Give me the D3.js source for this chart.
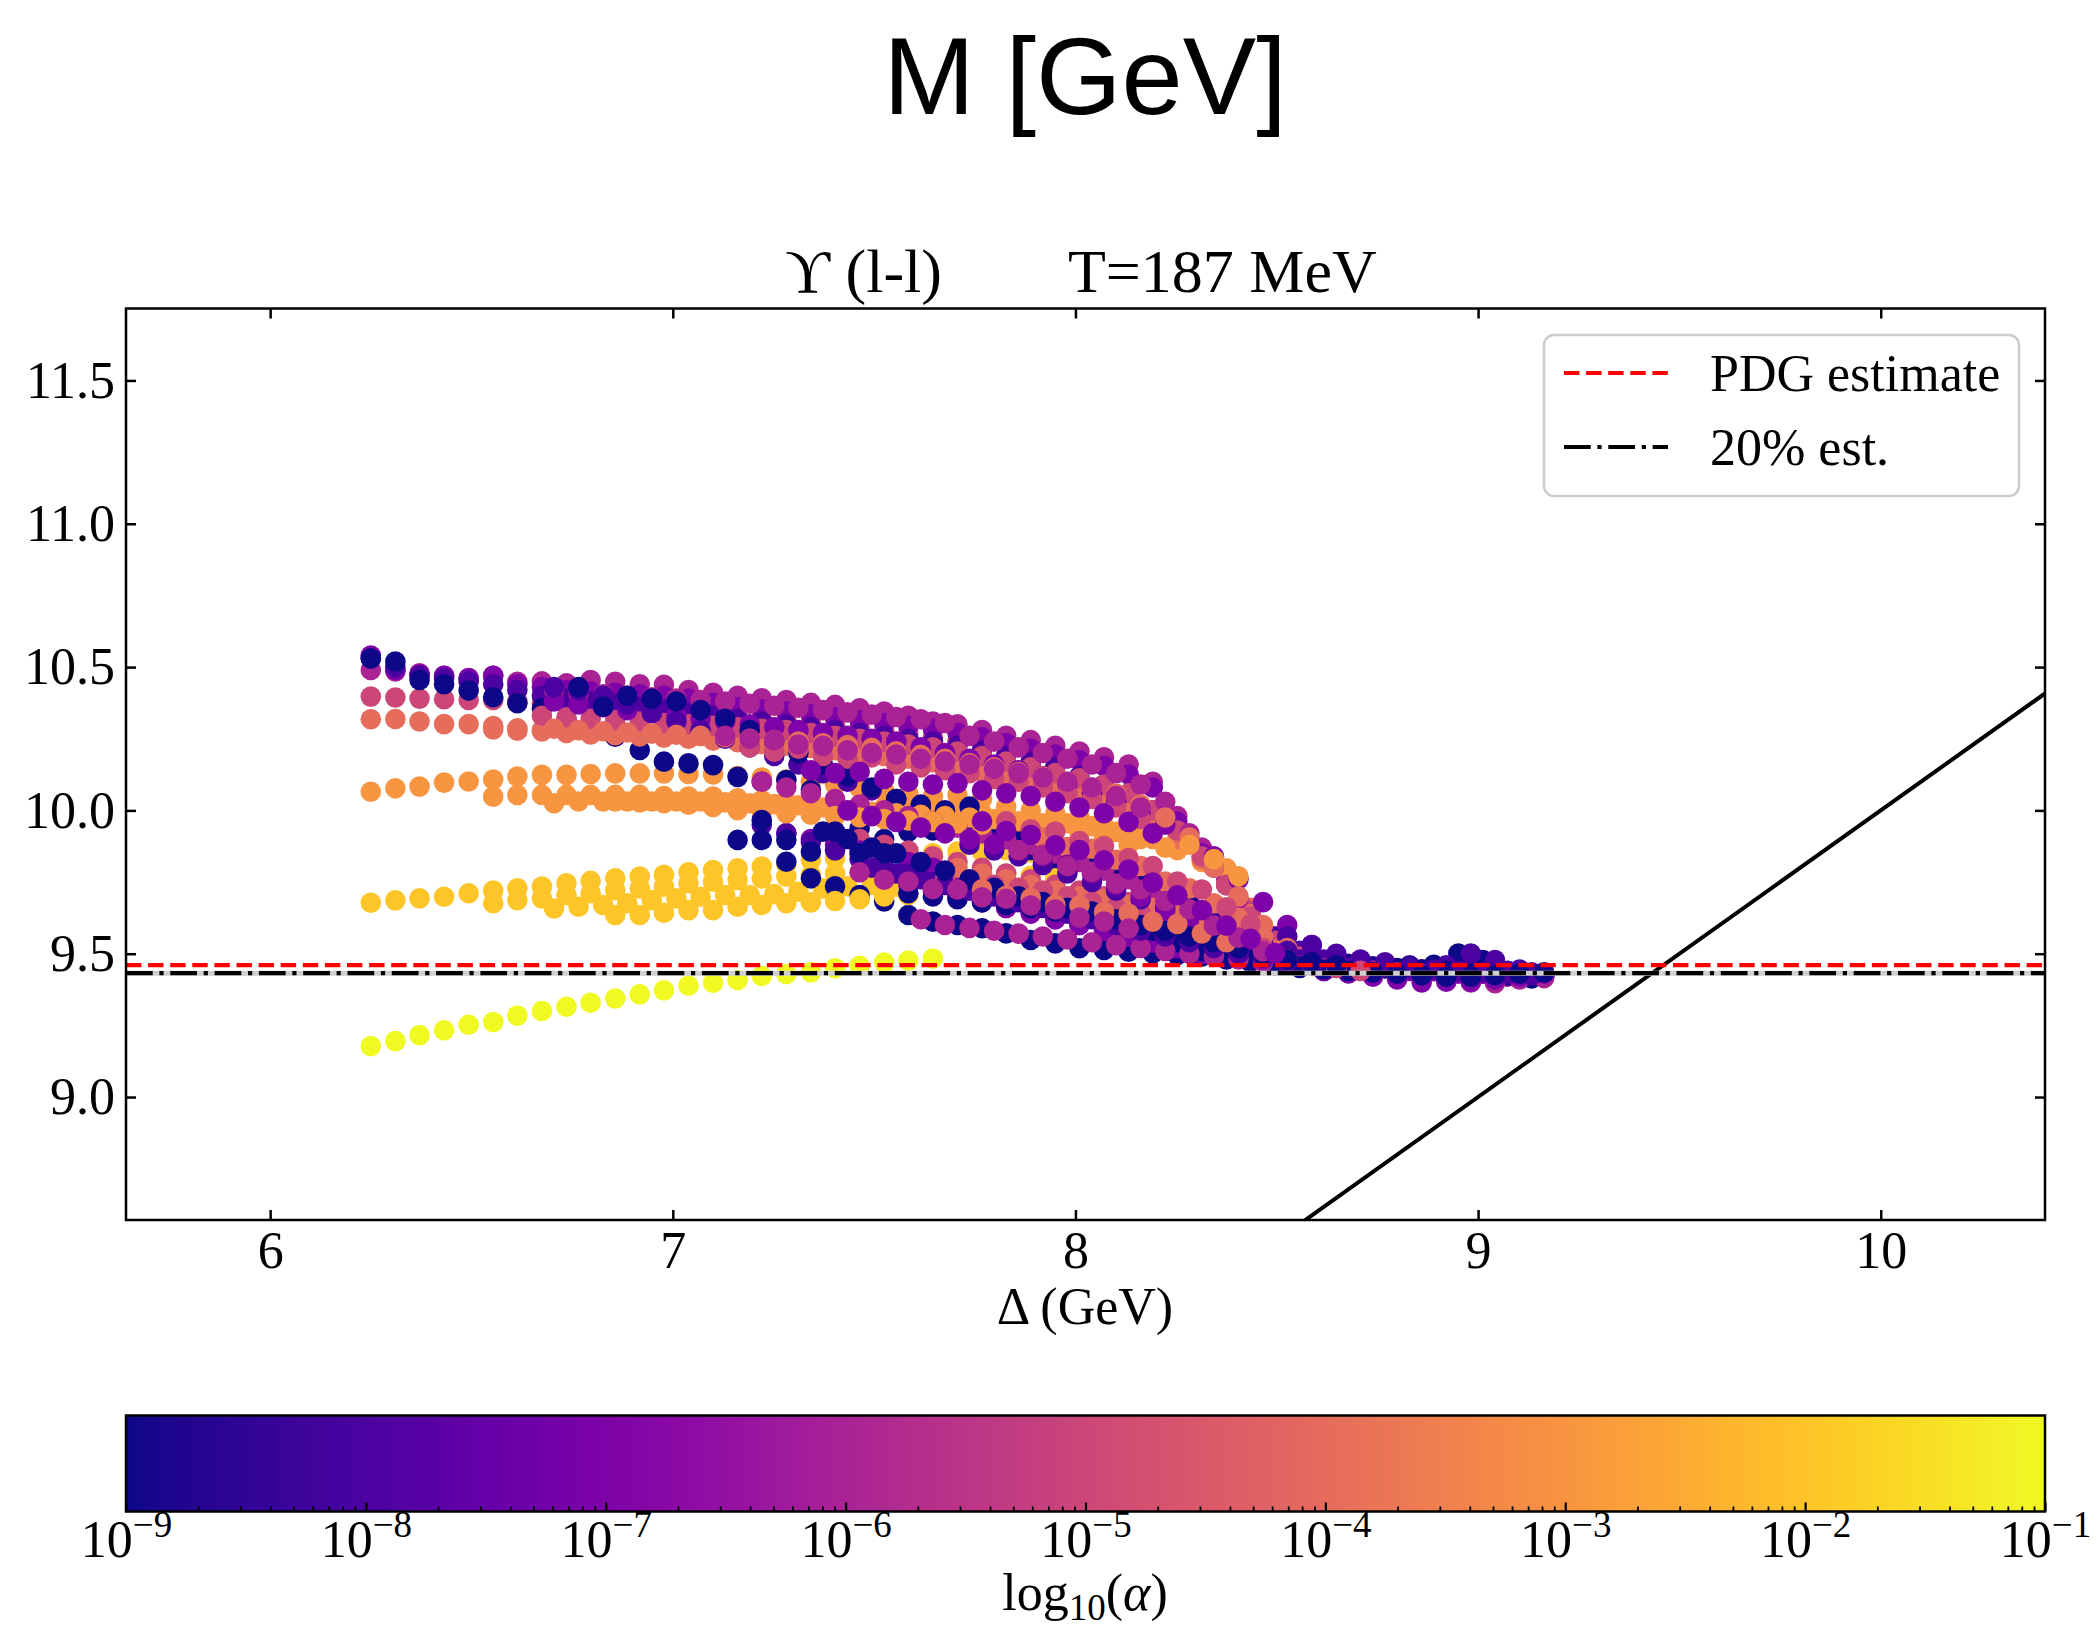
<!DOCTYPE html>
<html>
<head>
<meta charset="utf-8">
<script src="https://cdn.jsdelivr.net/npm/d3@7"></script>
<style>
  body { margin: 0; background: #ffffff; }
  svg text { font-family: "Liberation Serif", "DejaVu Serif", serif; fill: #000; }
</style>
</head>
<body>
<svg id="chart" width="2100" height="1628"></svg>
<script>
// ---- Δ grid (GeV), half-step spacing; a track point n sits at deltaGrid[j0 + 2n] ----
const deltaGrid = [
  6.250, 6.280, 6.311, 6.341, 6.371, 6.402, 6.432, 6.462, 6.493, 6.523,
  6.554, 6.584, 6.614, 6.645, 6.675, 6.705, 6.736, 6.766, 6.796, 6.827,
  6.857, 6.887, 6.918, 6.948, 6.978, 7.009, 7.039, 7.069, 7.100, 7.130,
  7.161, 7.191, 7.221, 7.252, 7.282, 7.312, 7.343, 7.373, 7.403, 7.434,
  7.464, 7.494, 7.525, 7.555, 7.585, 7.616, 7.646, 7.676, 7.707, 7.737,
  7.768, 7.798, 7.828, 7.859, 7.889, 7.919, 7.950, 7.980, 8.010, 8.041,
  8.071, 8.101, 8.132, 8.162, 8.192, 8.223, 8.253, 8.283, 8.314, 8.344,
  8.375, 8.405, 8.435, 8.466, 8.496, 8.526, 8.557, 8.587, 8.617, 8.648,
  8.678, 8.708, 8.739, 8.769, 8.799, 8.830, 8.860, 8.890, 8.921, 8.951,
  8.982, 9.012, 9.042, 9.073, 9.103, 9.133, 9.164, 9.194
];

// ---- fitted masses M (GeV) per regularisation strength α ----
// α = 1e-1
const tracksA1 = [
  { j0: 0, m: [9.178, 9.195, 9.216, 9.233, 9.252, 9.262, 9.284, 9.300, 9.315, 9.329, 9.344, 9.358, 9.372, 9.388, 9.399, 9.408, 9.422, 9.429, 9.435, 9.449, 9.458, 9.469, 9.476, 9.483] }
];
// α = 1e-2
const tracksA2 = [
  { j0: 0,  m: [9.678, 9.686, 9.693, 9.699, 9.711, 9.720, 9.728, 9.734, 9.746, 9.754, 9.763, 9.769, 9.775, 9.784, 9.792, 9.798, 9.804, 9.812, 9.827, 9.832, 9.839, 9.845, 9.850, 9.850, 9.856, 9.856, 9.862, 9.852, 9.840, 9.832, 9.827, 9.821] },
  { j0: 10, m: [9.676, 9.687, 9.693, 9.705, 9.711, 9.722, 9.728, 9.734, 9.746, 9.751, 9.757, 9.763, 9.769, 9.775, 9.780, 9.784, 9.788, 9.790, 9.775, 9.786, 9.775, 9.780, 9.772, 9.763] },
  { j0: 15, m: [9.658, 9.664, 9.670, 9.676, 9.687, 9.693, 9.699, 9.705, 9.705, 9.708, 9.716, 9.728, 9.735, 9.740, 9.734] },
  { j0: 20, m: [9.635, 9.635, 9.643, 9.652, 9.652, 9.664, 9.670, 9.676, 9.679, 9.684, 9.690, 9.700, 9.705] }
];
// α = 1e-3
const tracksA3 = [
  { j0: 0,  m: [10.065, 10.077, 10.083, 10.097, 10.101, 10.108, 10.118, 10.124, 10.124, 10.127, 10.129, 10.129, 10.129, 10.127, 10.125, 10.120, 10.115, 10.108, 10.100, 10.090, 10.078, 10.068, 10.058, 10.048, 10.054, 10.040, 10.013, 10.000, 9.990, 9.975, 9.986, 9.960, 9.930, 9.862, 9.830, 9.792] },
  { j0: 10, m: [10.048, 10.054, 10.054, 10.054, 10.054, 10.054, 10.054, 10.050, 10.048, 10.048, 10.042, 10.036, 10.030, 10.025, 10.020, 10.015, 10.010, 10.005, 10.000, 9.995, 9.990, 9.985, 9.978, 9.970, 9.960, 9.945, 9.925, 9.900, 9.862, 9.820, 9.798] },
  { j0: 15, m: [10.025, 10.031, 10.031, 10.031, 10.031, 10.031, 10.031, 10.028, 10.025, 10.022, 10.018, 10.010, 10.000, 9.995, 9.990, 9.985, 9.980, 9.975, 9.970, 9.962, 9.955, 9.955, 9.945, 9.925, 9.900, 9.870] },
  { j0: 20, m: [10.031, 10.028, 10.025, 10.020, 10.012, 10.001, 9.996, 9.990, 9.985, 9.980, 9.975, 9.970, 9.965, 9.960, 9.955, 9.950, 9.945, 9.940, 9.930, 9.920, 9.905, 9.880] },
  { j0: 67, m: [9.880, 9.830, 9.770] }
];
// α = 1e-4
const tracksA4 = [
  { j0: 0,  m: [10.318, 10.319, 10.310, 10.301, 10.301, 10.294, 10.286, 10.280, 10.275, 10.272, 10.268, 10.263, 10.258, 10.252, 10.246, 10.240, 10.234, 10.228, 10.222, 10.215, 10.205, 10.195, 10.186, 10.176, 10.160, 10.135, 10.120, 10.100, 10.080, 10.065, 10.040, 10.010, 9.978, 9.926, 9.860, 9.770, 9.660] },
  { j0: 10, m: [10.282, 10.278, 10.275, 10.270, 10.265, 10.262, 10.258, 10.254, 10.250, 10.244, 10.238, 10.232, 10.226, 10.218, 10.210, 10.200, 10.190, 10.180, 10.168, 10.155, 10.140, 10.125, 10.110, 10.095, 10.078, 10.050, 10.015, 9.960, 9.900, 9.830, 9.740, 9.640] },
  { j0: 15, m: [10.285, 10.280, 10.276, 10.272, 10.268, 10.264, 10.260, 10.255, 10.250, 10.245, 10.240, 10.234, 10.228, 10.218, 10.206, 10.194, 10.180, 10.165, 10.150, 10.134, 10.118, 10.100, 10.080, 10.058, 10.020, 9.975, 9.905, 9.800, 9.700, 9.600, 9.520] },
  { j0: 48, m: [9.800, 9.780, 9.760, 9.740, 9.720, 9.700, 9.690, 9.670, 9.660, 9.640, 9.620, 9.600, 9.560, 9.513] },
  { j0: 55, m: [9.905, 9.872, 9.866, 9.828, 9.806, 9.752, 9.728, 9.676, 9.624, 9.560] },
  { j0: 50, m: [9.725, 9.702, 9.694, 9.671, 9.668, 9.645, 9.640, 9.612, 9.604, 9.571, 9.540] }
];
// α = 1e-5
const tracksA5 = [
  { j0: 0,  m: [10.397, 10.394, 10.390, 10.388, 10.385, 10.385, 10.380, 10.372, 10.368, 10.362, 10.355, 10.350, 10.345, 10.338, 10.330, 10.325, 10.321, 10.315, 10.308, 10.300, 10.290, 10.280, 10.268, 10.255, 10.240, 10.211, 10.190, 10.160, 10.130, 10.100, 10.065, 10.030, 9.990, 9.930, 9.850, 9.750, 9.650, 9.560, 9.500, 9.475] },
  { j0: 14, m: [10.330, 10.325, 10.320, 10.315, 10.310, 10.305, 10.300, 10.295, 10.290, 10.285, 10.280, 10.270, 10.260, 10.250, 10.240, 10.230, 10.220, 10.205, 10.190, 10.170, 10.150, 10.130, 10.112, 10.090, 10.060, 10.000, 9.930, 9.840, 9.740, 9.630, 9.545, 9.490] },
  { j0: 40, m: [9.900, 9.880, 9.860, 9.840, 9.820, 9.800, 9.780, 9.760, 9.740, 9.720, 9.700, 9.680, 9.660, 9.640, 9.600, 9.560, 9.520, 9.490, 9.470] },
  { j0: 47, m: [9.760, 9.750, 9.740, 9.730, 9.720, 9.700, 9.680, 9.660, 9.640, 9.610, 9.580, 9.540, 9.500] },
  { j0: 73, m: [9.520, 9.480, 9.460, 9.450, 9.440] },
  { j0: 52, m: [9.962, 9.934, 9.926, 9.893, 9.876, 9.834, 9.806, 9.752, 9.724, 9.662, 9.603] },
  { j0: 31, m: [10.220, 10.205, 10.215, 10.190, 10.180, 10.185, 10.160, 10.150, 10.140, 10.130, 10.110, 10.100, 10.080, 10.060, 10.040, 10.010, 9.970] }
];
// α = 1e-6
const tracksA6 = [
  { j0: 0,  m: [10.490, 10.485, 10.478, 10.470, 10.462, 10.470, 10.449, 10.450, 10.443, 10.455, 10.449, 10.440, 10.438, 10.420, 10.410, 10.400, 10.391, 10.385, 10.375, 10.368, 10.356, 10.345, 10.330, 10.310, 10.300, 10.280, 10.260, 10.245, 10.225, 10.205, 10.185, 10.160, 10.100, 9.980, 9.870, 9.760, 9.640, 9.550, 9.490, 9.465, 9.455, 9.450, 9.445, 9.440, 9.440, 9.435, 9.430, 9.425, 9.420] },
  { j0: 15, m: [10.420, 10.410, 10.405, 10.400, 10.395, 10.390, 10.385, 10.380, 10.372, 10.365, 10.358, 10.350, 10.342, 10.334, 10.326, 10.318, 10.305, 10.260, 10.240, 10.220, 10.200, 10.180, 10.160, 10.130, 10.090, 10.030, 9.920, 9.800, 9.690, 9.580, 9.510, 9.475, 9.460, 9.455, 9.450, 9.445, 9.440, 9.435, 9.430, 9.430, 9.425] },
  { j0: 32, m: [10.100, 10.080, 10.060, 10.040, 10.020, 10.000, 9.980, 9.960, 9.940, 9.920, 9.900, 9.880, 9.850, 9.820, 9.790, 9.760, 9.720, 9.680, 9.640, 9.600, 9.550, 9.500, 9.470, 9.455, 9.450] },
  { j0: 48, m: [9.700, 9.680, 9.660, 9.640, 9.620, 9.600, 9.580, 9.560, 9.540, 9.520, 9.500, 9.490, 9.480, 9.470, 9.460, 9.450, 9.440, 9.440, 9.435, 9.430, 9.420, 9.400, 9.397, 9.410, 9.415] },
  { j0: 45, m: [9.620, 9.600, 9.590, 9.580, 9.570, 9.560, 9.550, 9.540, 9.530, 9.520, 9.510, 9.500, 9.490, 9.480, 9.470] },
  { j0: 53, m: [9.862, 9.845, 9.806, 9.786, 9.745, 9.724, 9.684, 9.655, 9.598, 9.556, 9.508] },
  { j0: 40, m: [9.784, 9.758, 9.752, 9.726, 9.724, 9.697, 9.692, 9.668, 9.654, 9.626, 9.612, 9.588] },
  { j0: 29, m: [10.260, 10.250, 10.245, 10.230, 10.225, 10.210, 10.200, 10.195, 10.180, 10.170, 10.160, 10.145, 10.130, 10.115, 10.100, 10.080, 10.050, 10.010] }
];
// α = 1e-7
const tracksA7 = [
  { j0: 0,  m: [10.540, 10.490, 10.475, 10.470, 10.461, 10.470, 10.440, 10.430, 10.420, 10.415, 10.410, 10.405, 10.400, 10.390, 10.375, 10.360, 10.352, 10.345, 10.335, 10.325, 10.315, 10.305, 10.295, 10.285, 10.270, 10.255, 10.235, 10.215, 10.195, 10.175, 10.155, 10.125, 10.080, 9.960, 9.850, 9.740, 9.630, 9.545, 9.485, 9.465, 9.455, 9.450, 9.445, 9.440, 9.440, 9.435, 9.430, 9.425, 9.420] },
  { j0: 15, m: [10.380, 10.370, 10.360, 10.350, 10.340, 10.330, 10.320, 10.310, 10.300, 10.290, 10.280, 10.270, 10.260, 10.250, 10.240, 10.220, 10.200, 10.180, 10.160, 10.140, 10.120, 10.090, 10.060, 10.030, 9.990, 9.950, 9.900, 9.840, 9.760, 9.680, 9.600, 9.530, 9.480, 9.460, 9.450, 9.440, 9.440, 9.430, 9.430, 9.420, 9.420] },
  { j0: 34, m: [9.920, 9.900, 9.880, 9.860, 9.840, 9.820, 9.800, 9.780, 9.760, 9.740, 9.720, 9.700, 9.680, 9.660, 9.630, 9.600, 9.570, 9.540, 9.510, 9.490, 9.470, 9.460, 9.450, 9.440] },
  { j0: 44, m: [9.740, 9.720, 9.700, 9.680, 9.660, 9.640, 9.620, 9.600, 9.580, 9.560, 9.540, 9.520, 9.500, 9.490, 9.480, 9.470, 9.460, 9.440, 9.432, 9.420, 9.410, 9.400, 9.402, 9.402, 9.410, 9.420, 9.430] },
  { j0: 39, m: [10.000, 9.980, 9.960, 9.940, 9.920, 9.900, 9.880, 9.860, 9.840, 9.810, 9.780, 9.740, 9.700, 9.650, 9.600, 9.550, 9.510, 9.480] },
  { j0: 50, m: [9.962, 9.928, 9.914, 9.878, 9.862, 9.826, 9.794, 9.748, 9.704, 9.652, 9.598, 9.552, 9.502] },
  { j0: 36, m: [10.140, 10.130, 10.135, 10.110, 10.100, 10.090, 10.095, 10.070, 10.060, 10.050, 10.030, 10.010, 9.990, 9.960, 9.920] }
];
// α = 1e-8
const tracksA8 = [
  { j0: 0,  m: [10.530, 10.500, 10.470, 10.460, 10.450, 10.440, 10.420, 10.400, 10.390, 10.380, 10.370, 10.360, 10.350, 10.340, 10.330, 10.320, 10.310, 10.300, 10.290, 10.280, 10.270, 10.260, 10.250, 10.240, 10.225, 10.210, 10.190, 10.170, 10.150, 10.120, 10.090, 10.050, 10.000, 9.930, 9.840, 9.740, 9.640, 9.560, 9.510, 9.480, 9.465, 9.455, 9.450, 9.445, 9.440, 9.440, 9.435, 9.430, 9.425] },
  { j0: 15, m: [10.430, 10.420, 10.400, 10.370, 10.340, 10.310, 10.280, 10.250, 10.220, 10.190, 10.160, 10.130, 10.100, 10.070, 10.040, 10.010, 9.980, 9.950, 9.920, 9.890, 9.860, 9.830, 9.800, 9.770, 9.740, 9.710, 9.680, 9.650, 9.620, 9.590, 9.560, 9.530, 9.500, 9.480, 9.470, 9.460, 9.455, 9.450, 9.445, 9.440, 9.435] },
  { j0: 32, m: [9.950, 9.920, 9.890, 9.860, 9.830, 9.800, 9.780, 9.750, 9.720, 9.700, 9.680, 9.660, 9.640, 9.620, 9.600, 9.580, 9.560, 9.540, 9.525, 9.510, 9.500, 9.490, 9.480, 9.470, 9.450, 9.445, 9.440, 9.445, 9.460, 9.501, 9.478, 9.445, 9.430] },
  { j0: 49, m: [9.880, 9.860, 9.840, 9.810, 9.780, 9.750, 9.720, 9.690, 9.660, 9.630, 9.600, 9.570, 9.540, 9.510, 9.490, 9.475, 9.465, 9.455, 9.450, 9.445, 9.440, 9.435, 9.430, 9.425] },
  { j0: 41, m: [9.800, 9.780, 9.760, 9.740, 9.720, 9.700, 9.680, 9.660, 9.640, 9.620, 9.600, 9.580, 9.560, 9.540, 9.520, 9.500, 9.485, 9.470, 9.460] }
];
// α = 1e-9
const tracksA9 = [
  { j0: 0,  m: [10.530, 10.519, 10.455, 10.440, 10.418, 10.395, 10.374, 10.356, 10.315, 10.285, 10.257, 10.211, 10.170, 10.164, 10.158, 10.117, 10.100, 10.106, 10.071, 10.013, 9.937, 9.900, 9.926, 9.930, 9.955, 9.937, 9.900, 9.862, 9.798, 9.711, 9.680, 9.640, 9.600, 9.560, 9.525, 9.500, 9.490, 9.480, 9.470, 9.466, 9.461, 9.455, 9.449, 9.445, 9.443, 9.440, 9.438, 9.435, 9.430] },
  { j0: 17, m: [10.430, 10.362, 10.400, 10.390, 10.380, 10.350, 10.320, 10.280, 10.240, 10.200, 10.160, 10.120, 10.080, 10.040, 10.020, 10.000, 10.013, 9.960, 9.930, 9.900, 9.870, 9.840, 9.810, 9.792, 9.722, 9.664, 9.600, 9.550, 9.510, 9.490, 9.478, 9.466, 9.461, 9.449, 9.455, 9.461, 9.501, 9.478, 9.426, 9.414] },
  { j0: 30, m: [9.897, 9.897, 9.821, 9.763, 9.735, 9.705, 9.682, 9.635, 9.612, 9.600, 9.589, 9.571, 9.548, 9.536, 9.519, 9.513, 9.507, 9.501, 9.496, 9.490, 9.480, 9.470, 9.460, 9.450, 9.440, 9.432, 9.440, 9.445, 9.443, 9.440, 9.426, 9.414, 9.414, 9.426] },
  { j0: 32, m: [9.966, 9.897, 9.856, 9.926, 9.850, 9.850, 9.711, 9.700, 9.690, 9.680, 9.670, 9.660, 9.647, 9.640, 9.630, 9.620, 9.580, 9.540, 9.510, 9.490, 9.478, 9.466, 9.455, 9.445, 9.440, 9.435, 9.430, 9.425, 9.420, 9.420, 9.425, 9.430, 9.435] },
  { j0: 37, m: [9.926, 9.900, 9.870, 9.850, 9.820, 9.790, 9.760, 9.730, 9.700, 9.680, 9.660, 9.647, 9.620, 9.600, 9.580, 9.560, 9.540, 9.520, 9.500, 9.480, 9.470, 9.460] }
];

// log10(α) of each set
const alphaExponents = [-1, -2, -3, -4, -5, -6, -7, -8, -9];
const alphaTracks = [tracksA1, tracksA2, tracksA3, tracksA4, tracksA5, tracksA6, tracksA7, tracksA8, tracksA9];

// reference masses (GeV)
const pdgMass = 9.4603;
const estMass = 9.432;

// axes
const xDomain = [5.642, 10.408];
const yDomain = [8.571, 11.751];
const xTicks = [6, 7, 8, 9, 10];
const yTicks = [9.0, 9.5, 10.0, 10.5, 11.0, 11.5];
const cbarExponents = [-9, -8, -7, -6, -5, -4, -3, -2, -1];
const legendLabels = ["PDG estimate", "20% est."];

// ---------------- drawing ----------------
const svg = d3.select("#chart");
const plot = { left: 126, right: 2045, top: 308.5, bottom: 1220 };
const x = d3.scaleLinear().domain(xDomain).range([plot.left, plot.right]);
const y = d3.scaleLinear().domain(yDomain).range([plot.bottom, plot.top]);
const color = d3.scaleSequential(d3.interpolatePlasma).domain([-9, -1]);

const defs = svg.append("defs");
defs.append("clipPath").attr("id", "plotClip").append("rect")
  .attr("x", plot.left).attr("y", plot.top)
  .attr("width", plot.right - plot.left).attr("height", plot.bottom - plot.top);

// figure title
svg.append("text")
  .attr("x", 1085).attr("y", 114)
  .attr("text-anchor", "middle")
  .style("font-family", '"Liberation Sans", Arial, sans-serif')
  .style("font-size", "110px")
  .text("M [GeV]");

// axes title
svg.append("text").attr("x", 942).attr("y", 292).attr("text-anchor", "end")
  .style("font-size", "62px").text("\u03D2 (l-l)");
svg.append("text").attr("x", 1068).attr("y", 292).style("font-size", "62px").text("T=187 MeV");

const plotG = svg.append("g").attr("clip-path", "url(#plotClip)");

// y = x reference line
plotG.append("line")
  .attr("x1", x(xDomain[0])).attr("y1", y(xDomain[0]))
  .attr("x2", x(xDomain[1])).attr("y2", y(xDomain[1]))
  .attr("stroke", "#000").attr("stroke-width", 4);

// scatter points: each scan (track rank) is drawn for all α before the next one
const points = [];
const maxRank = d3.max(alphaTracks, t => t.length);
for (let r = 0; r < maxRank; r++) {
  alphaTracks.forEach((tracks, k) => {
    const t = tracks[r];
    if (!t) return;
    t.m.forEach((m, n) => points.push({ a: alphaExponents[k], d: deltaGrid[t.j0 + 2 * n], m }));
  });
}
plotG.append("g").selectAll("circle").data(points).join("circle")
  .attr("cx", d => x(d.d))
  .attr("cy", d => y(d.m))
  .attr("r", 10.3)
  .attr("fill", d => color(d.a));

// horizontal reference masses
plotG.append("line")
  .attr("x1", plot.left).attr("x2", plot.right)
  .attr("y1", y(estMass)).attr("y2", y(estMass))
  .attr("stroke", "#cfcfcf").attr("stroke-width", 5);
plotG.append("line")
  .attr("x1", plot.left).attr("x2", plot.right)
  .attr("y1", y(estMass)).attr("y2", y(estMass))
  .attr("stroke", "#000").attr("stroke-width", 4.2)
  .attr("stroke-dasharray", "26.7,6.7,4.2,6.7");
plotG.append("line")
  .attr("x1", plot.left).attr("x2", plot.right)
  .attr("y1", y(pdgMass)).attr("y2", y(pdgMass))
  .attr("stroke", "#ff0000").attr("stroke-width", 4.2)
  .attr("stroke-dasharray", "15.4,6.7");

// axes with inward ticks on all four sides
function styleAxis(g) {
  g.select(".domain").remove();
  g.selectAll(".tick line").attr("stroke", "#000").attr("stroke-width", 2.5);
  g.selectAll(".tick text")
    .style("font-family", '"Liberation Serif", "DejaVu Serif", serif')
    .style("font-size", "52px").attr("fill", "#000");
}
svg.append("g").attr("transform", `translate(0,${plot.bottom})`)
  .call(d3.axisBottom(x).tickValues(xTicks).tickSizeInner(-10).tickSizeOuter(0).tickPadding(11).tickFormat(d3.format("d")))
  .call(styleAxis);
svg.append("g").attr("transform", `translate(0,${plot.top})`)
  .call(d3.axisTop(x).tickValues(xTicks).tickSizeInner(-10).tickSizeOuter(0).tickFormat(""))
  .call(styleAxis);
svg.append("g").attr("transform", `translate(${plot.left},0)`)
  .call(d3.axisLeft(y).tickValues(yTicks).tickSizeInner(-10).tickSizeOuter(0).tickPadding(11).tickFormat(d3.format(".1f")))
  .call(styleAxis);
svg.append("g").attr("transform", `translate(${plot.right},0)`)
  .call(d3.axisRight(y).tickValues(yTicks).tickSizeInner(-10).tickSizeOuter(0).tickFormat(""))
  .call(styleAxis);

svg.append("rect")
  .attr("x", plot.left).attr("y", plot.top)
  .attr("width", plot.right - plot.left).attr("height", plot.bottom - plot.top)
  .attr("fill", "none").attr("stroke", "#000").attr("stroke-width", 2.5);

// x-axis label
svg.append("text").attr("x", 1085).attr("y", 1324).attr("text-anchor", "middle")
  .style("font-size", "52px").text("\u0394 (GeV)");

// legend
const lg = svg.append("g");
lg.append("rect").attr("x", 1544).attr("y", 335).attr("width", 475).attr("height", 161)
  .attr("rx", 10).attr("fill", "#fff").attr("fill-opacity", 0.8)
  .attr("stroke", "#cccccc").attr("stroke-width", 2.5);
lg.append("line").attr("x1", 1564).attr("x2", 1668).attr("y1", 373).attr("y2", 373)
  .attr("stroke", "#ff0000").attr("stroke-width", 4.2).attr("stroke-dasharray", "15.4,6.7");
lg.append("line").attr("x1", 1564).attr("x2", 1668).attr("y1", 447).attr("y2", 447)
  .attr("stroke", "#000").attr("stroke-width", 4.2).attr("stroke-dasharray", "26.7,6.7,4.2,6.7");
lg.append("text").attr("x", 1710).attr("y", 391).style("font-size", "52px").text(legendLabels[0]);
lg.append("text").attr("x", 1710).attr("y", 465).style("font-size", "52px").text(legendLabels[1]);

// colour bar
const cb = { left: 126, right: 2045, top: 1415.5, bottom: 1511.5 };
const grad = defs.append("linearGradient").attr("id", "plasmaGrad")
  .attr("x1", "0%").attr("x2", "100%").attr("y1", "0%").attr("y2", "0%");
d3.range(0, 1.0001, 0.02).forEach(t => {
  grad.append("stop").attr("offset", `${t * 100}%`).attr("stop-color", d3.interpolatePlasma(t));
});
svg.append("rect").attr("x", cb.left).attr("y", cb.top)
  .attr("width", cb.right - cb.left).attr("height", cb.bottom - cb.top)
  .attr("fill", "url(#plasmaGrad)");

const cbScale = d3.scaleLog().domain([1e-9, 1e-1]).range([cb.left, cb.right]);
const majorVals = cbarExponents.map(e => Math.pow(10, e));
const minorVals = [];
cbarExponents.slice(0, -1).forEach(e => {
  for (let k = 2; k <= 9; k++) minorVals.push(k * Math.pow(10, e));
});
svg.append("g").attr("transform", `translate(0,${cb.bottom})`)
  .call(d3.axisBottom(cbScale).tickValues(minorVals).tickSizeInner(-5).tickSizeOuter(0).tickFormat(""))
  .call(g => { g.select(".domain").remove(); g.selectAll(".tick line").attr("stroke", "#000").attr("stroke-width", 1.8); });
const cbAxis = svg.append("g").attr("transform", `translate(0,${cb.bottom})`)
  .call(d3.axisBottom(cbScale).tickValues(majorVals).tickSizeInner(-9).tickSizeOuter(0).tickPadding(9).tickFormat(""))
  .call(g => { g.select(".domain").remove(); g.selectAll(".tick line").attr("stroke", "#000").attr("stroke-width", 2.2); });
cbAxis.selectAll(".tick text").each(function (d) {
  const t = d3.select(this)
    .style("font-family", '"Liberation Serif", "DejaVu Serif", serif')
    .style("font-size", "52px").attr("fill", "#000");
  t.append("tspan").text("10");
  t.append("tspan").attr("dy", "-20").style("font-size", "37px")
    .text("\u2212" + Math.abs(Math.round(Math.log10(d))));
});
svg.append("rect").attr("x", cb.left).attr("y", cb.top)
  .attr("width", cb.right - cb.left).attr("height", cb.bottom - cb.top)
  .attr("fill", "none").attr("stroke", "#000").attr("stroke-width", 2.5);

// colour bar label
const cl = svg.append("text").attr("x", 1085).attr("y", 1610).attr("text-anchor", "middle").style("font-size", "52px");
cl.append("tspan").text("log");
cl.append("tspan").attr("dy", 10).style("font-size", "37px").text("10");
cl.append("tspan").attr("dy", -10).text("(");
cl.append("tspan").style("font-style", "italic").text("\u03B1");
cl.append("tspan").text(")");
</script>
</body>
</html>
